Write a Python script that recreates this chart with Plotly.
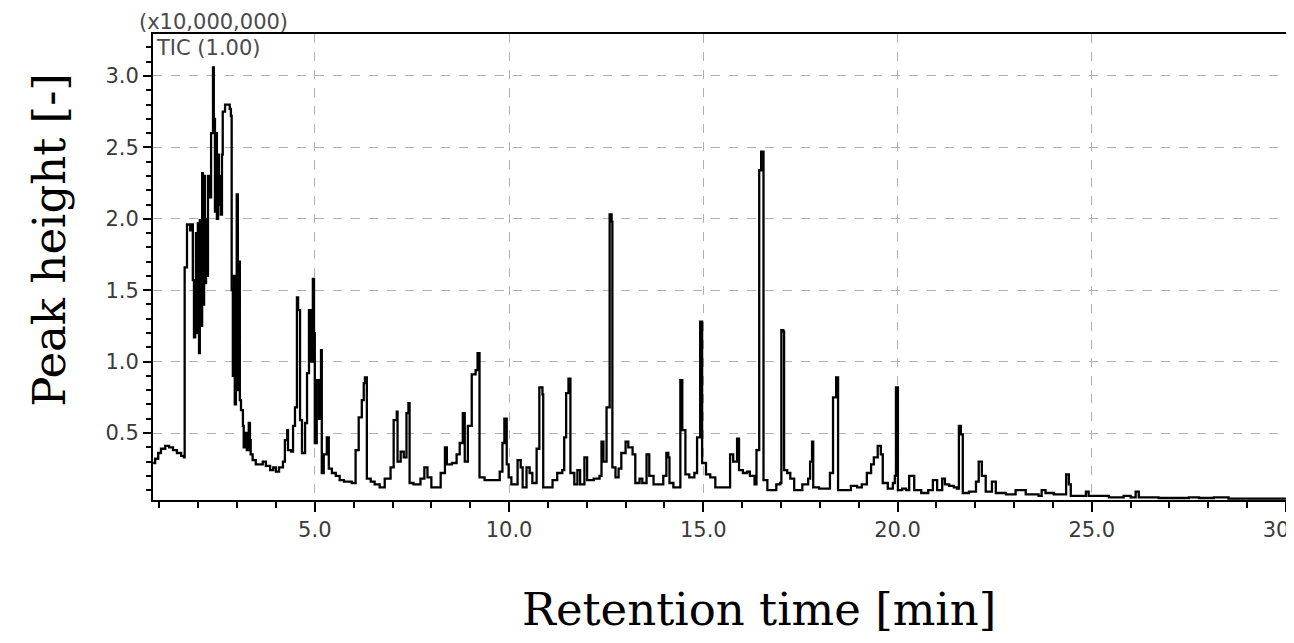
import plotly.graph_objects as go

# Retention time [min]
rt_min = [
    0.84, 0.89, 0.97, 1.04, 1.15, 1.25, 1.35, 1.45, 1.56, 1.63, 1.65, 1.69, 1.71, 1.79, 1.84, 1.86,
    1.89, 1.92, 1.94, 1.97, 1.99, 2.02, 2.04, 2.07, 2.10, 2.12, 2.15, 2.17, 2.20, 2.22, 2.25, 2.28,
    2.33, 2.38, 2.40, 2.43, 2.45, 2.48, 2.51, 2.53, 2.56, 2.58, 2.61, 2.63, 2.69, 2.76, 2.81, 2.84,
    2.86, 2.89, 2.92, 2.94, 2.97, 2.99, 3.02, 3.04, 3.07, 3.10, 3.15, 3.17, 3.22, 3.25, 3.30, 3.33,
    3.35, 3.40, 3.48, 3.58, 3.66, 3.74, 3.85, 3.93, 4.00, 4.08, 4.18, 4.23, 4.29, 4.31, 4.39, 4.44,
    4.49, 4.54, 4.57, 4.62, 4.67, 4.75, 4.80, 4.85, 4.90, 4.95, 4.98, 5.00, 5.05, 5.11, 5.16, 5.18,
    5.23, 5.31, 5.36, 5.44, 5.54, 5.64, 5.75, 5.85, 5.95, 6.05, 6.13, 6.21, 6.26, 6.29, 6.34, 6.44,
    6.54, 6.67, 6.80, 6.95, 7.03, 7.11, 7.13, 7.21, 7.29, 7.36, 7.41, 7.44, 7.54, 7.64, 7.72, 7.82,
    7.90, 8.00, 8.13, 8.24, 8.35, 8.40, 8.53, 8.65, 8.73, 8.81, 8.86, 8.94, 9.04, 9.14, 9.19, 9.24,
    9.37, 9.50, 9.63, 9.76, 9.83, 9.88, 9.94, 9.99, 10.06, 10.17, 10.22, 10.30, 10.35, 10.45, 10.53, 10.60,
    10.71, 10.78, 10.86, 10.88, 10.99, 11.12, 11.24, 11.37, 11.42, 11.47, 11.53, 11.58, 11.68, 11.76, 11.83, 11.94,
    12.01, 12.18, 12.33, 12.38, 12.43, 12.51, 12.59, 12.64, 12.66, 12.74, 12.82, 12.89, 13.00, 13.07, 13.18, 13.25,
    13.36, 13.43, 13.54, 13.61, 13.72, 13.87, 13.97, 14.05, 14.10, 14.13, 14.23, 14.33, 14.41, 14.46, 14.54, 14.64,
    14.77, 14.84, 14.92, 14.97, 15.07, 15.18, 15.31, 15.41, 15.54, 15.69, 15.77, 15.87, 15.92, 16.02, 16.13, 16.20,
    16.32, 16.37, 16.44, 16.49, 16.55, 16.65, 16.78, 16.88, 16.98, 17.01, 17.06, 17.08, 17.16, 17.24, 17.34, 17.47,
    17.55, 17.70, 17.75, 17.80, 17.83, 17.98, 18.16, 18.26, 18.34, 18.42, 18.47, 18.62, 18.80, 18.96, 19.08, 19.21,
    19.32, 19.39, 19.49, 19.57, 19.62, 19.75, 19.88, 19.93, 19.96, 20.01, 20.12, 20.22, 20.30, 20.43, 20.61, 20.79,
    20.91, 21.02, 21.15, 21.22, 21.33, 21.45, 21.53, 21.58, 21.63, 21.68, 21.84, 22.02, 22.09, 22.17, 22.27, 22.43,
    22.53, 22.79, 23.04, 23.17, 23.30, 23.63, 23.71, 23.81, 24.02, 24.31, 24.34, 24.41, 24.46, 24.80, 24.85, 24.92,
    25.44, 25.82, 26.00, 26.13, 26.21, 26.72, 27.50, 27.76, 28.14, 28.52, 29.29, 30.17,
]

# TIC peak height (x10,000,000)
tic_signal = [
    0.29, 0.32, 0.36, 0.39, 0.41, 0.40, 0.38, 0.36, 0.34, 0.33, 1.66, 1.66, 1.96, 1.92, 1.96, 1.57,
    1.17, 1.45, 1.90, 1.20, 1.97, 1.06, 1.99, 1.25, 2.32, 1.40, 2.30, 1.55, 2.00, 1.60, 2.30, 2.15,
    2.60, 3.06, 2.70, 2.05, 2.60, 2.00, 2.45, 2.10, 2.30, 2.03, 2.45, 2.75, 2.80, 2.80, 2.77, 2.72,
    1.50, 0.90, 1.60, 0.70, 1.30, 2.17, 0.80, 1.70, 0.73, 0.66, 0.55, 0.40, 0.50, 0.38, 0.57, 0.45,
    0.35, 0.31, 0.28, 0.28, 0.30, 0.27, 0.24, 0.26, 0.23, 0.26, 0.30, 0.45, 0.52, 0.38, 0.37, 0.55,
    0.68, 1.45, 1.36, 0.59, 0.36, 0.57, 0.92, 1.36, 1.00, 1.58, 1.20, 0.43, 0.87, 0.60, 1.08, 0.22,
    0.35, 0.47, 0.25, 0.22, 0.20, 0.17, 0.16, 0.16, 0.15, 0.38, 0.61, 0.73, 0.85, 0.89, 0.18, 0.16,
    0.14, 0.12, 0.18, 0.26, 0.59, 0.65, 0.30, 0.37, 0.33, 0.64, 0.71, 0.15, 0.14, 0.14, 0.18, 0.26,
    0.19, 0.12, 0.12, 0.22, 0.40, 0.28, 0.29, 0.35, 0.43, 0.64, 0.30, 0.55, 0.91, 0.94, 1.06, 0.19,
    0.17, 0.17, 0.17, 0.23, 0.43, 0.60, 0.28, 0.19, 0.14, 0.14, 0.31, 0.26, 0.12, 0.26, 0.22, 0.15,
    0.39, 0.82, 0.77, 0.12, 0.12, 0.17, 0.22, 0.24, 0.47, 0.78, 0.88, 0.22, 0.14, 0.24, 0.14, 0.33,
    0.17, 0.18, 0.20, 0.44, 0.30, 0.68, 2.03, 1.98, 0.26, 0.19, 0.25, 0.36, 0.44, 0.40, 0.35, 0.15,
    0.18, 0.15, 0.35, 0.20, 0.14, 0.14, 0.20, 0.36, 0.33, 0.15, 0.12, 0.12, 0.87, 0.52, 0.21, 0.19,
    0.22, 0.47, 1.28, 0.29, 0.21, 0.19, 0.12, 0.12, 0.12, 0.35, 0.30, 0.46, 0.24, 0.22, 0.23, 0.20,
    0.14, 0.38, 2.34, 2.47, 0.17, 0.10, 0.10, 0.14, 0.15, 1.22, 1.21, 0.24, 0.22, 0.18, 0.10, 0.10,
    0.14, 0.18, 0.30, 0.44, 0.12, 0.11, 0.11, 0.22, 0.75, 0.89, 0.10, 0.10, 0.13, 0.12, 0.14, 0.22,
    0.28, 0.33, 0.41, 0.35, 0.15, 0.11, 0.15, 0.20, 0.82, 0.10, 0.11, 0.10, 0.20, 0.10, 0.08, 0.10,
    0.17, 0.10, 0.18, 0.14, 0.13, 0.12, 0.11, 0.55, 0.49, 0.08, 0.09, 0.16, 0.30, 0.20, 0.09, 0.16,
    0.08, 0.07, 0.10, 0.10, 0.07, 0.06, 0.10, 0.08, 0.07, 0.07, 0.21, 0.14, 0.06, 0.06, 0.09, 0.06,
    0.05, 0.06, 0.05, 0.09, 0.05, 0.045, 0.05, 0.045, 0.05, 0.04, 0.04, 0.04,
]

x_tick_vals = [5, 10, 15, 20, 25, 30]
x_tick_text = ["5.0", "10.0", "15.0", "20.0", "25.0", "30.0"]
y_tick_vals = [0.5, 1.0, 1.5, 2.0, 2.5, 3.0]
y_tick_text = ["0.5", "1.0", "1.5", "2.0", "2.5", "3.0"]

fig = go.Figure()
fig.add_trace(go.Scatter(
    x=rt_min, y=tic_signal, mode="lines",
    line=dict(color="black", width=2.3, shape="hv"),
    showlegend=False, hoverinfo="skip",
))

tick_font = dict(family="DejaVu Sans, sans-serif", size=21, color="#3a3a3a")
small_font = dict(family="DejaVu Sans, sans-serif", size=21, color="#4a4a4a")

fig.update_layout(
    width=1278, height=627,
    margin=dict(l=145, r=0, t=26, b=135, autoexpand=False),
    paper_bgcolor="white", plot_bgcolor="white",
    xaxis=dict(
        range=[0.835, 30.0], showline=True, linecolor="black", linewidth=2, mirror=True,
        ticks="outside", ticklen=10, tickwidth=1.5, tickcolor="black",
        tickvals=x_tick_vals, ticktext=x_tick_text, tickfont=tick_font,
        ticklabeloverflow="allow", automargin=False,
        showgrid=True, gridcolor="#b0b0b0", gridwidth=1.2, griddash="dash",
        minor=dict(tickmode="linear", tick0=0, dtick=1, ticklen=6, tickwidth=1.5,
                   tickcolor="black", showgrid=False),
        zeroline=False,
    ),
    yaxis=dict(
        range=[0.031, 3.294], showline=True, linecolor="black", linewidth=2, mirror=False,
        ticks="outside", ticklen=8, tickwidth=1.5, tickcolor="black",
        tickvals=y_tick_vals, ticktext=y_tick_text, tickfont=tick_font,
        automargin=False,
        showgrid=True, gridcolor="#b0b0b0", gridwidth=1.2, griddash="dash",
        minor=dict(tickmode="linear", tick0=0, dtick=0.1, ticklen=5, tickwidth=1.5,
                   tickcolor="black", showgrid=False),
        zeroline=False,
    ),
    annotations=[
        dict(text="(x10,000,000)", xref="paper", yref="paper", x=-0.014, y=1.025,
             xanchor="left", yanchor="middle", showarrow=False, font=small_font),
        dict(text="TIC (1.00)", xref="paper", yref="paper", x=0.001, y=0.97,
             xanchor="left", yanchor="middle", showarrow=False, font=small_font),
        dict(text="Retention time [min]", xref="paper", yref="paper", x=0.535, y=-0.236,
             xanchor="center", yanchor="middle", showarrow=False,
             font=dict(family="DejaVu Serif, serif", size=45, color="black")),
        dict(text="Peak height [-]", xref="paper", yref="paper", x=-0.091, y=0.558,
             xanchor="center", yanchor="middle", showarrow=False, textangle=-90,
             font=dict(family="DejaVu Serif, serif", size=45, color="black")),
    ],
)

fig.write_html("out.html")
